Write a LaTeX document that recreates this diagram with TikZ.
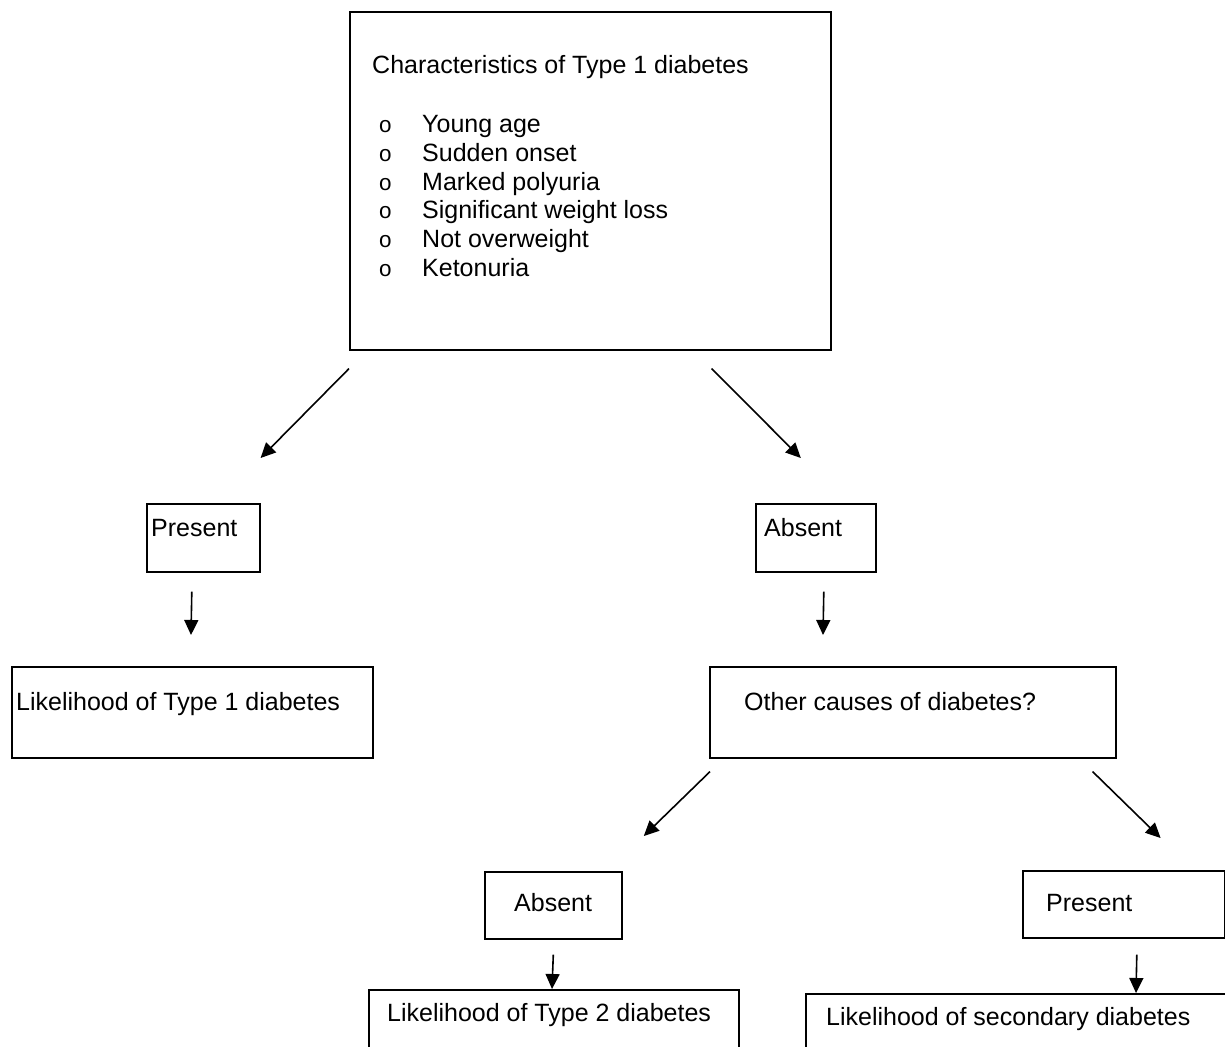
\documentclass[tikz,border=0pt]{standalone}
\usepackage{fontspec}
\setmainfont{Liberation Sans}
\setmonofont{Liberation Mono}
\usetikzlibrary{arrows.meta, positioning}

\begin{document}
\begin{tikzpicture}[
    x=1pt, y=-1pt,
    box/.style={
        draw, line width=1.6pt, anchor=north west, inner sep=0pt,
    },
    txt/.style={anchor=base west, inner sep=0pt, font=\fontsize{25}{30}\selectfont},
    bul/.style={anchor=base west, inner sep=0pt, font=\fontsize{22.5}{26}\selectfont\ttfamily},
    arr/.style={line width=1.6pt, -{Triangle[length=15pt, width=14pt]}},
]

% ── Page frame ──────────────────────────────────────────────────────────────
\useasboundingbox (0,0) rectangle (1225,1046);
\clip (0,0) rectangle (1225,1046);

% ── Boxes ───────────────────────────────────────────────────────────────────
\node[box, minimum width=481pt, minimum height=338pt] (chars) at (349, 11)  {};
\node[box, minimum width=113pt, minimum height=68pt]  (pres1) at (146, 503) {};
\node[box, minimum width=120pt, minimum height=68pt]  (abs1)  at (755, 503) {};
\node[box, minimum width=361pt, minimum height=91pt]  (like1) at (11, 666)  {};
\node[box, minimum width=406pt, minimum height=91pt]  (other) at (709, 666) {};
\node[box, minimum width=137pt, minimum height=67pt]  (abs2)  at (484, 871) {};
\node[box, minimum width=202pt, minimum height=67pt]  (pres2) at (1022, 870) {};
\node[box, minimum width=370pt, minimum height=100pt] (like2) at (368, 989) {};
\node[box, minimum width=440pt, minimum height=100pt] (like3) at (805, 993) {};

% ── Characteristics list ────────────────────────────────────────────────────
\def\bulX{378.5}
\def\itemX{422}
\def\listY{132.7}
\def\lineH{28.7}

\node[txt] (title) at (372, 74) {Characteristics of Type 1 diabetes};

\node[bul] at (\bulX, \listY)           {o};
\node[txt] (i1) at (\itemX, \listY)           {Young age};
\node[bul] at (\bulX, \listY+1*\lineH)  {o};
\node[txt] (i2) at (\itemX, \listY+1*\lineH)  {Sudden onset};
\node[bul] at (\bulX, \listY+2*\lineH)  {o};
\node[txt] (i3) at (\itemX, \listY+2*\lineH)  {Marked polyuria};
\node[bul] at (\bulX, \listY+3*\lineH)  {o};
\node[txt] (i4) at (\itemX, \listY+3*\lineH)  {Significant weight loss};
\node[bul] at (\bulX, \listY+4*\lineH)  {o};
\node[txt] (i5) at (\itemX, \listY+4*\lineH)  {Not overweight};
\node[bul] at (\bulX, \listY+5*\lineH)  {o};
\node[txt] (i6) at (\itemX, \listY+5*\lineH)  {Ketonuria};

% ── Box labels ──────────────────────────────────────────────────────────────
\node[txt] (tpres1) at (151, 536)    {Present};
\node[txt] (tabs1)  at (764, 536)    {Absent};
\node[txt] (tlike1) at (16, 710)     {Likelihood of Type 1 diabetes};
\node[txt] (tother) at (744, 710)    {Other causes of diabetes?};
\node[txt] (tabs2)  at (514, 911.7)  {Absent};
\node[txt] (tpres2) at (1046, 911.7) {Present};
\node[txt] (tlike2) at (387, 1021.7) {Likelihood of Type 2 diabetes};
\node[txt] (tlike3) at (826, 1025.7) {Likelihood of secondary diabetes};

% ── Arrows ──────────────────────────────────────────────────────────────────
\draw[arr] ([shift={(0,18)}]chars.south west)    -- ([shift={(0,-45)}]pres1.north east);
\draw[arr] ([shift={(-120,18)}]chars.south east) -- ([shift={(-15,-45)}]abs1.north);
\draw[arr] ([shift={(-11.5,19)}]pres1.south)     -- ([shift={(180,-31)}]like1.north west);
\draw[arr] ([shift={(8,19)}]abs1.south)          -- ([shift={(114,-31)}]other.north west);
\draw[arr] ([shift={(1,13)}]other.south west)    -- ([shift={(90.5,-35)}]abs2.north);
\draw[arr] ([shift={(-24,13)}]other.south east)  -- ([shift={(-65,-32)}]pres2.north east);
\draw[arr] ([shift={(0,15)}]abs2.south)          -- ([shift={(184,0)}]like2.north west);
\draw[arr] ([shift={(13,16)}]pres2.south)        -- ([shift={(331,0)}]like3.north west);

\end{tikzpicture}
\end{document}
